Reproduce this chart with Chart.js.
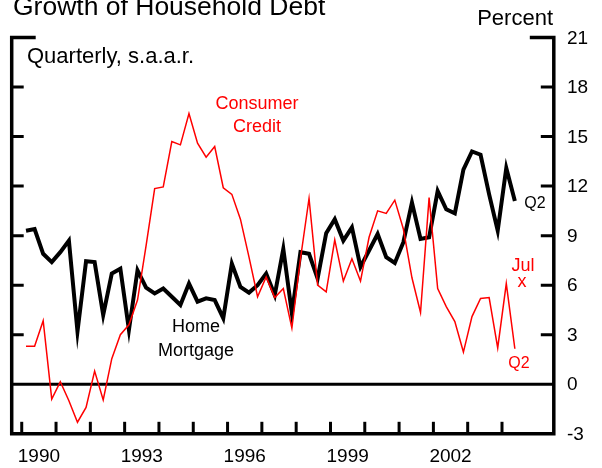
<!DOCTYPE html>
<html lang="en">
<head>
    <meta charset="UTF-8">
    <title>Growth of Household Debt</title>
    <script src="https://cdn.jsdelivr.net/npm/chart.js"></script>
    <style>
        body { margin: 0; background: #fff; }
        #debtChart { display: block; }
    </style>
</head>
<body>
    <canvas id="debtChart" width="602" height="468"></canvas>

    <script>
        // quarterly growth rates, 1990Q1 - 2004Q2
        const quarters = [
            '1990Q1', '1990Q2', '1990Q3', '1990Q4', '1991Q1', '1991Q2', '1991Q3', '1991Q4',
            '1992Q1', '1992Q2', '1992Q3', '1992Q4', '1993Q1', '1993Q2', '1993Q3', '1993Q4',
            '1994Q1', '1994Q2', '1994Q3', '1994Q4', '1995Q1', '1995Q2', '1995Q3', '1995Q4',
            '1996Q1', '1996Q2', '1996Q3', '1996Q4', '1997Q1', '1997Q2', '1997Q3', '1997Q4',
            '1998Q1', '1998Q2', '1998Q3', '1998Q4', '1999Q1', '1999Q2', '1999Q3', '1999Q4',
            '2000Q1', '2000Q2', '2000Q3', '2000Q4', '2001Q1', '2001Q2', '2001Q3', '2001Q4',
            '2002Q1', '2002Q2', '2002Q3', '2002Q4', '2003Q1', '2003Q2', '2003Q3', '2003Q4',
            '2004Q1', '2004Q2'
        ];
        const homeMortgage = [
            9.3, 9.4, 7.9, 7.4, 8.0, 8.7, 3.2, 7.45,
            7.4, 4.2, 6.7, 7.0, 3.3, 6.9, 5.85, 5.5,
            5.8, 5.3, 4.8, 6.1, 5.0, 5.2, 5.1, 4.0,
            7.3, 5.9, 5.55, 6.0, 6.7, 5.4, 8.2, 4.3,
            8.0, 7.9, 6.4, 9.15, 10.0, 8.7, 9.5, 7.1,
            8.1, 9.1, 7.7, 7.35, 8.6, 11.0, 8.8, 8.9,
            11.7, 10.6, 10.35, 13.0, 14.1, 13.9, 11.5, 9.3,
            13.1, 11.1
        ];
        const consumerCredit = [
            2.3, 2.3, 3.85, -0.9, 0.15, -1.0, -2.3, -1.4,
            0.8, -0.95, 1.55, 3.0, 3.6, 5.1, 8.4, 11.85,
            11.95, 14.7, 14.5, 16.4, 14.6, 13.75, 14.4, 11.9,
            11.5, 10.0, 7.7, 5.3, 6.5, 5.25, 5.8, 3.4,
            7.6, 11.25, 6.0, 5.6, 8.75, 6.25, 7.6, 6.25,
            8.9, 10.5, 10.35, 11.15, 9.4, 6.45, 4.35, 11.3,
            5.8, 4.7, 3.8, 1.95, 4.1, 5.2, 5.25, 2.2,
            6.1, 2.15
        ];
        const yTicks = [-3, 0, 3, 6, 9, 12, 15, 18, 21];
        const tickYears = [1990, 1991, 1992, 1993, 1994, 1995, 1996, 1997, 1998, 1999, 2000, 2001, 2002, 2003, 2004];
        const labelYears = [1990, 1993, 1996, 1999, 2002];

        const FONT = "'Liberation Sans', Arial, sans-serif";
        const RED = '#ff0000';

        // x axis works in quarter index: 1990Q1 = 0
        const yearStart = y => (y - 1990) * 4 - 0.5;

        const toPoints = arr => arr.map((v, i) => ({ x: i, y: v }));

        const frame = {
            id: 'frame',
            beforeDatasetsDraw(chart) {
                const { ctx, chartArea: a, scales: { x, y } } = chart;
                ctx.save();
                ctx.strokeStyle = '#000';

                // zero line
                ctx.lineWidth = 3;
                const y0 = y.getPixelForValue(0);
                ctx.beginPath();
                ctx.moveTo(a.left, y0);
                ctx.lineTo(a.right, y0);
                ctx.stroke();

                // box: left, bottom, right plus long top ticks
                ctx.lineWidth = 3.5;
                ctx.lineJoin = 'miter';
                ctx.beginPath();
                ctx.moveTo(a.left + 24, a.top);
                ctx.lineTo(a.left, a.top);
                ctx.lineTo(a.left, a.bottom);
                ctx.lineTo(a.right, a.bottom);
                ctx.lineTo(a.right, a.top);
                ctx.lineTo(a.right - 24, a.top);
                ctx.stroke();

                // y ticks both sides
                ctx.lineWidth = 3;
                yTicks.forEach(t => {
                    if (t === 21 || t === -3 || t === 0) return;
                    const py = y.getPixelForValue(t);
                    ctx.beginPath();
                    ctx.moveTo(a.left, py);
                    ctx.lineTo(a.left + 12, py);
                    ctx.moveTo(a.right, py);
                    ctx.lineTo(a.right - 13, py);
                    ctx.stroke();
                });

                // year ticks
                tickYears.forEach(yr => {
                    const px = x.getPixelForValue(yearStart(yr));
                    ctx.beginPath();
                    ctx.moveTo(px, a.bottom);
                    ctx.lineTo(px, a.bottom - 12);
                    ctx.stroke();
                });
                ctx.restore();
            },
            afterDraw(chart) {
                const { ctx, chartArea: a, scales: { x, y } } = chart;
                ctx.save();
                ctx.fillStyle = '#000';

                ctx.font = '26.5px ' + FONT;
                ctx.textAlign = 'left';
                ctx.textBaseline = 'alphabetic';
                ctx.fillText('Growth of Household Debt', 13, 15);

                ctx.font = '22px ' + FONT;
                ctx.textAlign = 'right';
                ctx.fillText('Percent', 553, 25);

                ctx.font = '22px ' + FONT;
                ctx.textAlign = 'left';
                ctx.fillText('Quarterly, s.a.a.r.', 27, 63);

                // right axis numbers
                ctx.font = '19px ' + FONT;
                ctx.textBaseline = 'middle';
                yTicks.forEach(t => ctx.fillText(String(t), 567, y.getPixelForValue(t) + 1));

                // year labels centred in the year
                ctx.textAlign = 'center';
                ctx.textBaseline = 'alphabetic';
                labelYears.forEach(yr => {
                    ctx.fillText(String(yr), x.getPixelForValue(yearStart(yr) + 2), 462);
                });

                // series labels
                ctx.font = '18px ' + FONT;
                ctx.fillText('Home', 196, 332);
                ctx.fillText('Mortgage', 196, 356);
                ctx.font = '16px ' + FONT;
                ctx.fillText('Q2', 535, 208);

                ctx.fillStyle = RED;
                ctx.font = '18px ' + FONT;
                ctx.fillText('Consumer', 257, 109);
                ctx.fillText('Credit', 257, 132);
                ctx.fillText('Jul', 523, 271);
                ctx.fillText('x', 522, 287);
                ctx.font = '16px ' + FONT;
                ctx.fillText('Q2', 519, 368);
                ctx.restore();
            }
        };

        new Chart(document.getElementById('debtChart'), {
            type: 'line',
            data: {
                labels: quarters,
                datasets: [
                    {
                        label: 'Consumer Credit',
                        data: toPoints(consumerCredit),
                        borderColor: RED,
                        borderWidth: 1.5,
                        pointRadius: 0,
                        tension: 0
                    },
                    {
                        label: 'Home Mortgage',
                        data: toPoints(homeMortgage),
                        borderColor: '#000',
                        borderWidth: 4,
                        pointRadius: 0,
                        tension: 0
                    }
                ]
            },
            options: {
                responsive: false,
                animation: false,
                layout: {
                    padding: { left: 11.7, right: 48.2, top: 37.5, bottom: 34.2 }
                },
                scales: {
                    x: { type: 'linear', min: -1.67, max: 61.54, display: false },
                    y: { type: 'linear', min: -3, max: 21, display: false }
                },
                plugins: {
                    legend: { display: false },
                    tooltip: { enabled: false }
                }
            },
            plugins: [frame]
        });
    </script>
</body>
</html>
